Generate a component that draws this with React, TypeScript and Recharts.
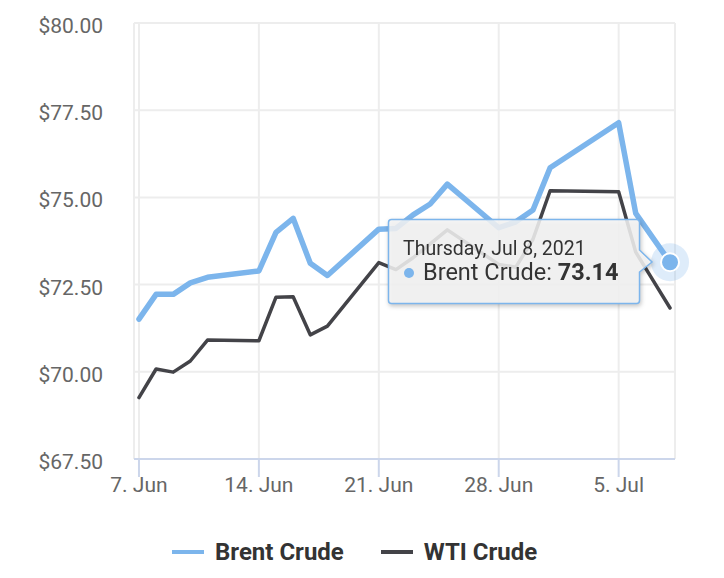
import React from 'react';
import { LineChart, Line, XAxis, YAxis, CartesianGrid, Tooltip, Legend } from 'recharts';

// trading days shown on the chart
const dates = [
  '2021-06-07', '2021-06-08', '2021-06-09', '2021-06-10', '2021-06-11',
  '2021-06-14', '2021-06-15', '2021-06-16', '2021-06-17', '2021-06-18',
  '2021-06-21', '2021-06-22', '2021-06-23', '2021-06-24', '2021-06-25',
  '2021-06-28', '2021-06-29', '2021-06-30', '2021-07-01',
  '2021-07-05', '2021-07-06', '2021-07-07', '2021-07-08',
];

const brent = [
  71.51, 72.22, 72.22, 72.55, 72.71,
  72.89, 74.0, 74.4, 73.11, 72.76,
  74.09, 74.11, 74.5, 74.81, 75.38,
  74.13, 74.3, 74.64, 75.85,
  77.14, 74.54, 73.84, 73.14,
];

const wti = [
  69.26, 70.08, 69.99, 70.31, 70.91,
  70.89, 72.14, 72.15, 71.06, 71.31,
  73.13, 72.93, 73.27, 73.67, 74.07,
  73.08, 73.0, 73.8, 75.19,
  75.16, 73.43, 72.63, 71.83,
];

const yTicks = [67.5, 70, 72.5, 75, 77.5, 80];
const xTickDates = ['2021-06-07', '2021-06-14', '2021-06-21', '2021-06-28', '2021-07-05'];
const seriesNames = ['Brent Crude', 'WTI Crude'];
const seriesColors = ['#7cb5ec', '#434348'];
const months = ['Jan', 'Feb', 'Mar', 'Apr', 'May', 'Jun', 'Jul', 'Aug', 'Sep', 'Oct', 'Nov', 'Dec'];
const weekdays = ['Sunday', 'Monday', 'Tuesday', 'Wednesday', 'Thursday', 'Friday', 'Saturday'];

const DAY = 86400000;
const toTime = (s: string) => Date.parse(s + 'T00:00:00Z');

const data = dates.map((d, i) => ({ t: toTime(d), brent: brent[i], wti: wti[i] }));
const xTicks = xTickDates.map(toTime);
const xDomain = [toTime(dates[0]) - 0.29 * DAY, toTime(dates[dates.length - 1]) + 0.29 * DAY];

const FONT = 'Roboto, "Noto Sans", sans-serif';

const YTick = (props: any) => {
  const { x, y, payload } = props;
  return (
    <text x={x} y={y + 10} textAnchor="end" fill="#666666" fontSize={21} fontFamily={FONT}>
      {'$' + Number(payload.value).toFixed(2)}
    </text>
  );
};

const XTick = (props: any) => {
  const { x, y, payload } = props;
  const d = new Date(payload.value);
  return (
    <text x={x} y={y + 15} textAnchor="middle" fill="#666666" fontSize={21} fontFamily={FONT}>
      {d.getUTCDate() + '. ' + months[d.getUTCMonth()]}
    </text>
  );
};

const TipBox = (props: any) => {
  const { active, payload } = props;
  if (!active || !payload || !payload.length) return null;
  const item = payload.find((p: any) => p.dataKey === 'brent') || payload[0];
  const d = new Date(item.payload.t);
  const header = `${weekdays[d.getUTCDay()]}, ${months[d.getUTCMonth()]} ${d.getUTCDate()}, ${d.getUTCFullYear()}`;
  return (
    <svg
      width={272}
      height={92}
      style={{ display: 'block', overflow: 'visible', filter: 'drop-shadow(1px 2px 2px rgba(0,0,0,0.25))' }}
    >
      <path
        d="M 3.5 0.5 L 248.5 0.5 Q 251.5 0.5 251.5 3.5 L 251.5 31 L 264 43 L 251.5 53 L 251.5 81.5 Q 251.5 84.5 248.5 84.5 L 3.5 84.5 Q 0.5 84.5 0.5 81.5 L 0.5 3.5 Q 0.5 0.5 3.5 0.5 Z"
        fill="rgba(247,247,247,0.85)"
        stroke="#7cb5ec"
        strokeWidth={1.5}
      />
      <text x={15} y={36} fontSize={19.5} fill="#333333" fontFamily={FONT}>{header}</text>
      <circle cx={21} cy={54} r={5} fill={seriesColors[0]} />
      <text x={35} y={61} fontSize={23.5} fill="#333333" fontFamily={FONT}>
        {seriesNames[0] + ': '}
        <tspan fontWeight="bold">{Number(item.value).toFixed(2)}</tspan>
      </text>
    </svg>
  );
};

const LegendBox = () => (
  <div
    style={{
      height: 42,
      width: 724,
      display: 'flex',
      alignItems: 'center',
      paddingLeft: 172,
      boxSizing: 'border-box',
      fontFamily: FONT,
      fontWeight: 700,
      fontSize: 24,
      color: '#333333',
    }}
  >
    {seriesNames.map((name, i) => (
      <div key={name} style={{ display: 'flex', alignItems: 'center', marginRight: 37 }}>
        <div style={{ width: 32, height: 4, background: seriesColors[i], marginRight: 11 }} />
        <span>{name}</span>
      </div>
    ))}
  </div>
);

const BrentDot = (props: any) => {
  const { cx, cy, index } = props;
  if (index !== data.length - 1) return <g key={'d' + index} />;
  return (
    <g key={'d' + index}>
      <circle cx={cx} cy={cy} r={19} fill={seriesColors[0]} fillOpacity={0.25} />
      <circle cx={cx} cy={cy} r={9} fill={seriesColors[0]} stroke="#ffffff" strokeWidth={2} />
    </g>
  );
};

export default function App() {
  return (
    <div style={{ position: 'absolute', left: 0, top: 0, background: '#ffffff' }}>
      <LineChart width={724} height={578} data={data} margin={{ top: 23, right: 49, left: 0, bottom: 5 }}>
        <CartesianGrid stroke="#ededed" strokeWidth={2} />
        <XAxis
          dataKey="t"
          type="number"
          scale="time"
          domain={xDomain}
          ticks={xTicks}
          height={72}
          tickSize={18}
          tickMargin={0}
          stroke="#ccd6eb"
          axisLine={{ stroke: '#ccd6eb', strokeWidth: 2 }}
          tickLine={{ stroke: '#ccd6eb', strokeWidth: 2 }}
          tick={<XTick />}
          interval={0}
        />
        <YAxis
          type="number"
          domain={[67.5, 80]}
          ticks={yTicks}
          width={134}
          axisLine={false}
          tickLine={false}
          tickSize={0}
          tickMargin={31}
          tick={<YTick />}
          interval={0}
        />
        <Tooltip
          content={<TipBox />}
          position={{ x: 388, y: 219 }}
          defaultIndex={data.length - 1}
          cursor={false}
          isAnimationActive={false}
          wrapperStyle={{ outline: 'none', zIndex: 5 }}
        />
        <Legend verticalAlign="bottom" content={<LegendBox />} wrapperStyle={{ left: 0, width: 724 }} />
        <Line
          type="linear"
          dataKey="brent"
          name={seriesNames[0]}
          stroke={seriesColors[0]}
          strokeWidth={5.5}
          strokeLinejoin="round"
          strokeLinecap="round"
          dot={BrentDot}
          activeDot={false}
          isAnimationActive={false}
        />
        <Line
          type="linear"
          dataKey="wti"
          name={seriesNames[1]}
          stroke={seriesColors[1]}
          strokeWidth={3.5}
          strokeLinejoin="round"
          strokeLinecap="round"
          dot={false}
          activeDot={false}
          isAnimationActive={false}
        />
      </LineChart>
    </div>
  );
}
